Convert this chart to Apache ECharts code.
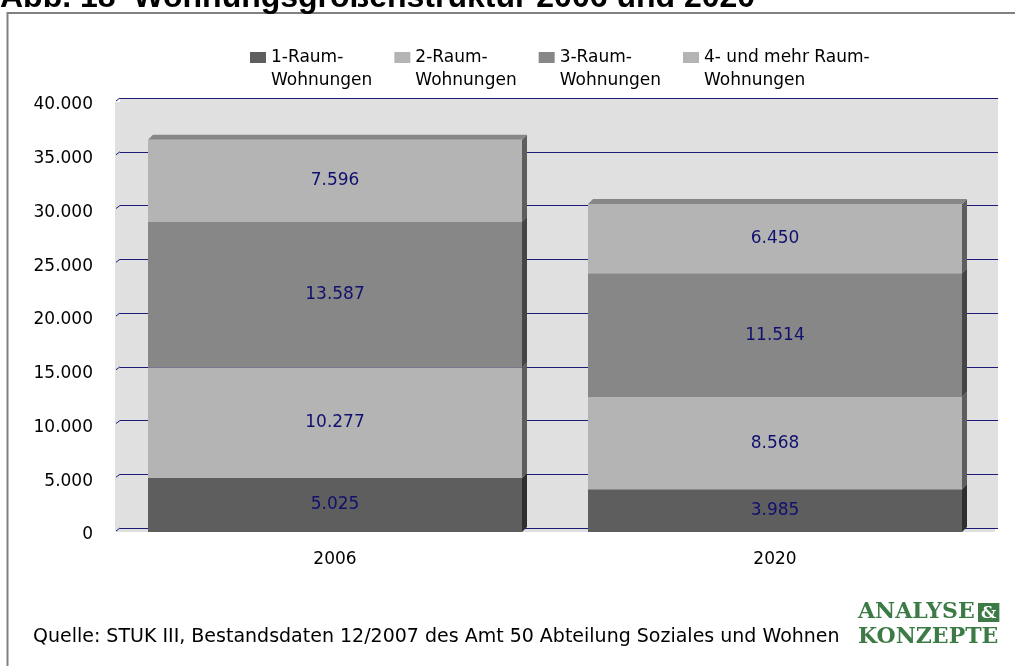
<!DOCTYPE html>
<html><head><meta charset="utf-8">
<script src="https://cdn.jsdelivr.net/npm/echarts@6/dist/echarts.min.js"></script>
<style>html,body{margin:0;padding:0;background:#fff}#c{width:1015px;height:666px}</style>
</head><body><div id="c"></div>
<script>
// ---- data ----
const categories = ['2006', '2020'];
const seriesNames = ['1-Raum-\nWohnungen', '2-Raum-\nWohnungen', '3-Raum-\nWohnungen', '4- und mehr Raum-\nWohnungen'];
const raum1 = [5025, 3985];
const raum2 = [10277, 8568];
const raum3 = [13587, 11514];
const raum4 = [7596, 6450];
const yMin = 0, yMax = 40000, yInterval = 5000;
const yTicks = [0, 5000, 10000, 15000, 20000, 25000, 30000, 35000, 40000];
const titleText = 'Abb. 18  Wohnungsgrößenstruktur 2006 und 2020';
const sourceText = 'Quelle: STUK III, Bestandsdaten 12/2007 des Amt 50 Abteilung Soziales und Wohnen';

// ---- styles ----
const frontColors = ['#5e5e5e', '#b4b4b4', '#878787', '#b4b4b4'];
const sideColors = ['#2e2e2e', '#5e5e5e', '#454545', '#5e5e5e'];
const topColor = '#878787';
const BAR_W = 374, D = 5;
const FONT = 'DejaVu Sans';
const fmt = v => String(Math.round(v)).replace(/\B(?=(\d{3})+(?!\d))/g, '.');

const values = [raum1, raum2, raum3, raum4];
const faceData = [];
categories.forEach((c, i) => {
  let base = 0;
  values.forEach((arr, s) => {
    faceData.push([i, base, base + arr[i], s]);
    base += arr[i];
  });
});

const chart = echarts.init(document.getElementById('c'));
const barSeries = values.map((arr, s) => ({
  name: seriesNames[s], type: 'bar', stack: 'total', xAxisIndex: 0, yAxisIndex: 0,
  barWidth: BAR_W, data: arr, itemStyle: { color: frontColors[s] },
  label: { show: true, position: 'inside', formatter: p => fmt(p.value), color: '#10106e', fontFamily: FONT, fontSize: 17 },
  z: 3
}));

chart.setOption({
  animation: false,
  backgroundColor: '#fff',
  grid: [
    { left: 115, top: 102, width: 880, height: 430, show: true, backgroundColor: '#e0e0e0', borderWidth: 0 },
    { left: 120, top: 98, width: 878, height: 430, show: true, backgroundColor: '#e0e0e0', borderWidth: 0 }
  ],
  xAxis: [
    { type: 'category', gridIndex: 0, data: categories, axisLine: { show: false }, axisTick: { show: false },
      axisLabel: { margin: 19, color: '#000', fontFamily: FONT, fontSize: 17 } },
    { type: 'category', gridIndex: 1, data: categories, show: false }
  ],
  yAxis: [
    { type: 'value', gridIndex: 0, min: yMin, max: yMax, interval: yInterval, axisLine: { show: false }, axisTick: { show: false },
      splitLine: { show: false },
      axisLabel: { margin: 22, color: '#000', fontFamily: FONT, fontSize: 17, formatter: v => '{a|' + fmt(v) + '}',
        rich: { a: { color: '#000', fontFamily: FONT, fontSize: 17, padding: [6, 0, 0, 0] } } } },
    { type: 'value', gridIndex: 1, min: yMin, max: yMax, interval: yInterval, axisLine: { show: false }, axisTick: { show: false },
      axisLabel: { show: false }, splitLine: { show: true, lineStyle: { color: '#1c1c78', width: 1 } } }
  ],
  legend: {
    data: seriesNames, left: 245, top: 18, itemWidth: 16, itemHeight: 11, itemGap: 22, icon: 'rect', selectedMode: false,
    formatter: name => '\n' + name,
    textStyle: { fontFamily: FONT, fontSize: 17, lineHeight: 23, color: '#000' }
  },
  series: barSeries.concat([
    {
      type: 'custom', xAxisIndex: 0, yAxisIndex: 0, data: faceData, z: 3, silent: true,
      encode: { x: 0, y: [1, 2] },
      renderItem: (params, api) => {
        const i = api.value(0), b = api.value(1), t = api.value(2), s = api.value(3);
        const pB = api.coord([i, b]), pT = api.coord([i, t]);
        const xl = pB[0] - BAR_W / 2, xr = pB[0] + BAR_W / 2;
        const children = [{ type: 'polygon', shape: { points: [[xr, pT[1]], [xr + D, pT[1] - D], [xr + D, pB[1] - D], [xr, pB[1]]] }, style: { fill: sideColors[s] } }];
        if (s === values.length - 1) {
          children.push({ type: 'polygon', shape: { points: [[xl, pT[1]], [xl + D, pT[1] - D], [xr + D, pT[1] - D], [xr, pT[1]]] }, style: { fill: topColor } });
        }
        return { type: 'group', children };
      }
    },
    {
      type: 'custom', xAxisIndex: 1, yAxisIndex: 1, data: yTicks.map(v => [0, v]), z: 1, silent: true,
      encode: { x: 0, y: 1 },
      renderItem: (params, api) => {
        const y = api.coord([0, api.value(1)])[1];
        const x0 = params.coordSys.x;
        return { type: 'line', shape: { x1: x0 - 4, y1: y + 3, x2: x0, y2: y }, style: { stroke: '#1c1c78', lineWidth: 1 } };
      }
    }
  ]),
  graphic: [
    { type: 'rect', silent: true, shape: { x: 7.5, y: 13, width: 1100, height: 700 }, style: { fill: 'none', stroke: '#808080', lineWidth: 2 } },
    { type: 'text', x: 0, y: -18, style: { text: titleText, font: 'bold 32px "Liberation Sans"', fill: '#000', verticalAlign: 'top' } },
    { type: 'text', x: 33, y: 637, style: { text: sourceText, font: '19px "DejaVu Sans"', fill: '#000', verticalAlign: 'middle' } },
    { type: 'text', x: 858, y: 600, style: {
        text: '{a|ANALYSE} {b|&}\n{a|KONZEPTE}',
        rich: {
          a: { fontFamily: 'DejaVu Serif', fontWeight: 'bold', fontSize: 22, fill: '#3d7b46', lineHeight: 25 },
          b: { fontFamily: 'DejaVu Serif', fontWeight: 'bold', fontSize: 17, fill: '#ffffff', backgroundColor: '#3d7b46', padding: [2, 3, 0, 3], lineHeight: 25 }
        }
      } }
  ]
});
</script></body></html>
